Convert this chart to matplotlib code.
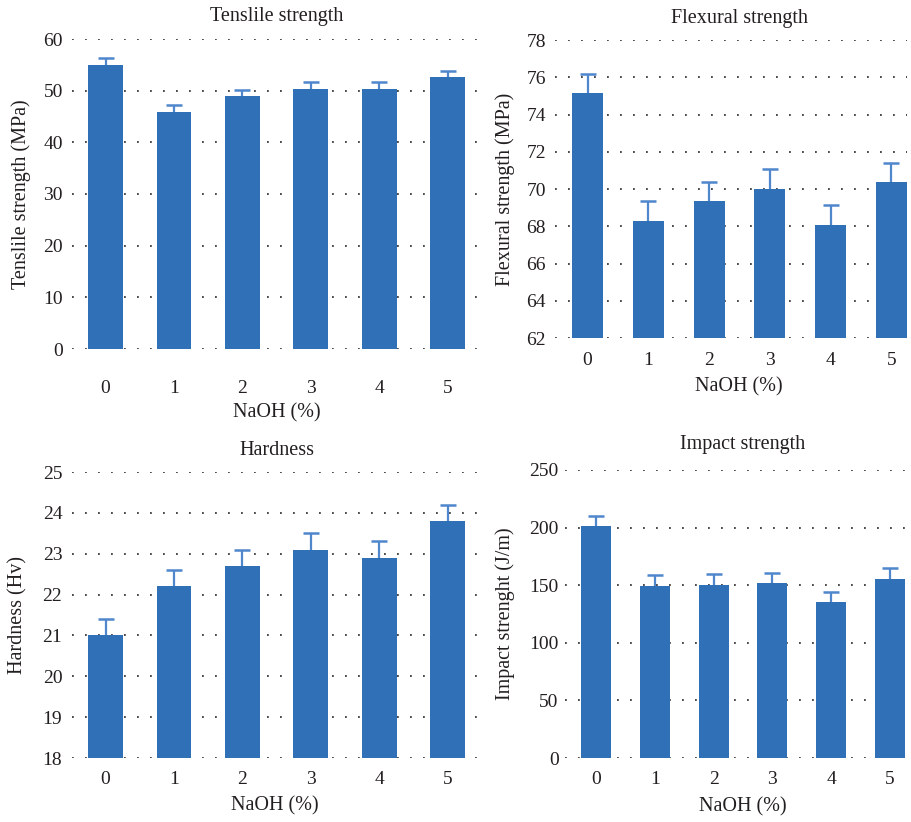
import numpy as np
import matplotlib
matplotlib.use("Agg")
import matplotlib.pyplot as plt

plt.rcParams['font.family'] = ['Liberation Serif', 'DejaVu Serif']

naoh = [0, 1, 2, 3, 4, 5]

tensile = [54.9, 45.8, 49.0, 50.3, 50.3, 52.6]
tensile_err = [1.5, 1.4, 1.2, 1.4, 1.3, 1.3]

flexural = [75.15, 68.3, 69.35, 70.0, 68.05, 70.38]
flexural_err = [1.05, 1.05, 1.05, 1.07, 1.1, 1.03]

hardness = [21.0, 22.2, 22.7, 23.1, 22.9, 23.8]
hardness_err = [0.4, 0.4, 0.4, 0.4, 0.4, 0.4]

impact = [201, 149.5, 150.6, 151.5, 135, 155.6]
impact_err = [9, 9.5, 9, 9, 9, 9.5]

bar_color = '#2f70b7'
err_color = '#4f86cc'
text_color = '#231f20'

W, H = 912, 822
fig = plt.figure(figsize=(W / 100, H / 100), dpi=100)


def px_axes(left, right, top, bottom):
    return fig.add_axes([left / W, 1 - bottom / H, (right - left) / W, (bottom - top) / H])


panels = [
    dict(box=(72, 482, 39, 349), y=tensile, e=tensile_err, ylim=(0, 60), yt=np.arange(0, 61, 10),
         xlim=(-0.49, 5.5), title='Tenslile strength', ylabel='Tenslile strength (MPa)',
         tpos=(0.5, 1.074), ylpos=-0.124, xlpos=(0.5, -0.206), xpad=22, ypad=6.5),
    dict(box=(555, 907, 40, 338), y=flexural, e=flexural_err, ylim=(62, 78), yt=np.arange(62, 79, 2),
         xlim=(-0.535, 5.255), title='Flexural strength', ylabel='Flexural strength (MPa)',
         tpos=(0.523, 1.073), ylpos=-0.142, xlpos=(0.523, -0.164), xpad=10, ypad=6.5),
    dict(box=(72, 482, 472, 758), y=hardness, e=hardness_err, ylim=(18, 25), yt=np.arange(18, 26, 1),
         xlim=(-0.49, 5.5), title='Hardness', ylabel='Hardness (Hv)',
         tpos=(0.5, 1.076), ylpos=-0.132, xlpos=(0.495, -0.169), xpad=9, ypad=7),
    dict(box=(565, 905, 470, 758), y=impact, e=impact_err, ylim=(0, 250), yt=np.arange(0, 251, 50),
         xlim=(-0.527, 5.255), title='Impact strength', ylabel='Impact strenght (J/m)',
         tpos=(0.523, 1.087), ylpos=-0.176, xlpos=(0.522, -0.171), xpad=9, ypad=4.5),
]

for p in panels:
    ax = px_axes(*p['box'])
    y = np.array(p['y'])
    e = np.array(p['e'])
    ax.bar(naoh, y, width=0.51, color=bar_color, zorder=2)
    # upper error bar only: stem + single cap
    ax.errorbar(naoh, y, yerr=[np.zeros_like(e), e], fmt='none',
                ecolor=err_color, elinewidth=1.6, capsize=0, zorder=3)
    ax.plot(naoh, y + e, ls='none', marker='_', markersize=11, markeredgewidth=1.8,
            color=err_color, zorder=3)
    ax.set_ylim(*p['ylim'])
    ax.set_xlim(*p['xlim'])
    ax.set_yticks(p['yt'])
    ax.set_xticks(naoh)
    for s in ax.spines.values():
        s.set_visible(False)
    ax.set_axisbelow(True)
    ax.yaxis.grid(True, color='#3a3a3a', linewidth=1.3, linestyle=(0, (1, 6.2)))
    ax.tick_params(axis='both', length=0, labelsize=14, labelcolor=text_color)
    ax.tick_params(axis='x', pad=p['xpad'])
    ax.tick_params(axis='y', pad=p['ypad'])
    ax.set_title(p['title'], fontsize=14.5, color=text_color, y=p['tpos'][1], va='center', pad=0)
    ax.title.set_x(p['tpos'][0])
    ax.set_ylabel(p['ylabel'], fontsize=14.5, color=text_color, va='center')
    ax.yaxis.set_label_coords(p['ylpos'], 0.5)
    ax.set_xlabel('NaOH (%)', fontsize=14.5, color=text_color, va='center')
    ax.xaxis.set_label_coords(*p['xlpos'])

fig.savefig('out.png', dpi=100)
